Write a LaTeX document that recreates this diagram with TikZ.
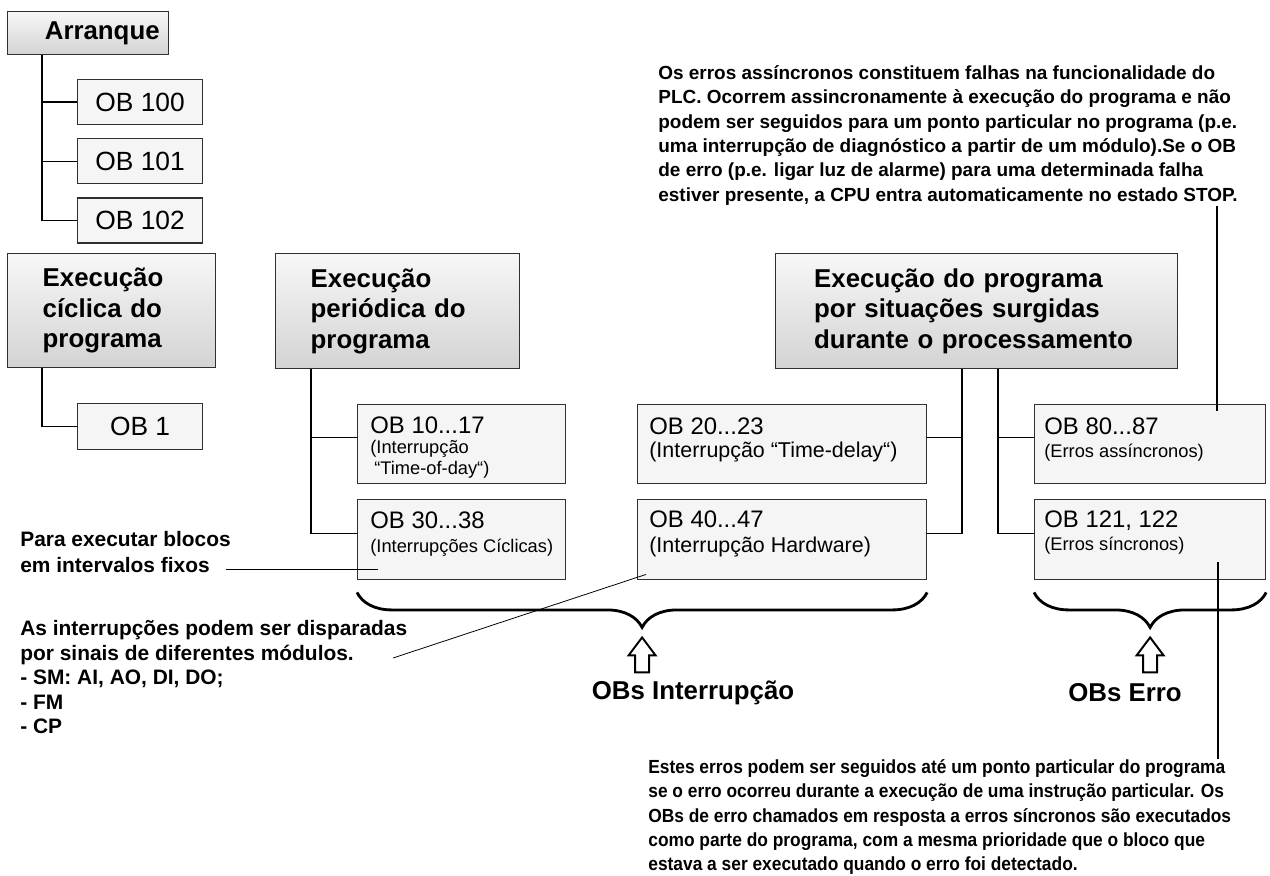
\documentclass[tikz,border=0pt]{standalone}
\usepackage{fontspec}
\setmainfont{Liberation Sans}
\newfontfamily\narrowfont[FakeStretch=0.915]{Liberation Sans}
\usepackage{tikz}
\usetikzlibrary{positioning,calc,decorations.pathreplacing}
\definecolor{boxline}{HTML}{303030}
\definecolor{headtop}{HTML}{F7F7F7}
\definecolor{headbot}{HTML}{D3D3D3}
\definecolor{obfill}{HTML}{F5F5F5}

\begin{document}
\begin{tikzpicture}[
  x=0.02cm, y=-0.02cm,
  head/.style={draw=boxline,line width=0.8pt,top color=headtop,bottom color=headbot,anchor=north west,align=left,inner ysep=0pt,font=\fontsize{14.7}{17.4}\selectfont\bfseries},
  obbox/.style={draw=boxline,line width=0.7pt,fill=obfill,anchor=north west,inner sep=0pt,font=\fontsize{15}{17}\selectfont},
  obtext/.style={anchor=base west,inner sep=0pt,font=\fontsize{13.6}{16}\selectfont},
  subtext/.style={anchor=base west,inner sep=0pt,font=\fontsize{10.4}{12}\selectfont},
  subtextl/.style={anchor=base west,inner sep=0pt,font=\fontsize{12.2}{14}\selectfont},
  wire/.style={line width=0.75pt},
  pointer/.style={line width=0.45pt},
  note/.style={anchor=north west,align=left,inner sep=0pt,font=\bfseries\fontsize{10.8}{13.9}\selectfont},
  lnote/.style={anchor=north west,align=left,inner sep=0pt,font=\fontsize{11.9}{14}\selectfont\bfseries},
  oblabel/.style={font=\fontsize{14.7}{17}\selectfont\bfseries},
  obbrace/.style={decorate,decoration={brace,mirror,amplitude=0.7cm},line width=1.6pt},
  hollowup/.pic={\draw[line width=1.1pt] (0,0) -- (13.5,18) -- (7,18) -- (7,35) -- (-7,35) -- (-7,18) -- (-13.5,18) -- cycle;},
]
\useasboundingbox (0,0) rectangle (1270,875);

\node[head,align=right,inner xsep=0.18cm,text width=2.86cm,minimum height=0.86cm] (arranque) at (7,11) {Arranque};
\node[obbox,minimum width=2.5cm,minimum height=0.9cm] (ob100) at (77,79) {OB 100};
\node[obbox,minimum width=2.5cm,minimum height=0.9cm,below=0.26cm of ob100] (ob101) {OB 101};
\node[obbox,minimum width=2.5cm,minimum height=0.9cm,below=0.26cm of ob101] (ob102) {OB 102};

\node[head,inner xsep=0.7cm,text width=2.76cm,minimum height=2.28cm] (ciclica) at (7,253) {Execução\\cíclica do\\programa};
\node[obbox,minimum width=2.5cm,minimum height=0.92cm] (ob1) at (77,403) {OB 1};

\node[head,inner xsep=0.7cm,text width=3.48cm,minimum height=2.3cm] (periodica) at (275,253) {Execução\\periódica do\\programa};
\node[obbox,minimum width=4.16cm,minimum height=1.58cm] (ob10) at (357,404) {};
\node[obbox,minimum width=4.16cm,minimum height=1.6cm,below=0.3cm of ob10] (ob30) {};
\node[obtext] (ob10t) at ([shift={(0.26cm,-0.6cm)}]ob10.north west) {OB 10...17};
\node[subtext] (ob10s) at ([shift={(0.26cm,-1.0cm)}]ob10.north west) {(Interrupção};
\node[subtext] (ob10u) at ([shift={(0.34cm,-1.42cm)}]ob10.north west) {“Time-of-day“)};
\node[obtext] (ob30t) at ([shift={(0.26cm,-0.58cm)}]ob30.north west) {OB 30...38};
\node[subtext] (ob30s) at ([shift={(0.26cm,-1.07cm)}]ob30.north west) {(Interrupções Cíclicas)};

\node[head,inner xsep=0.77cm,text width=6.5cm,minimum height=2.3cm] (situacoes) at (775,253)
  {Execução do programa\\por situações surgidas\\durante o processamento};
\node[obbox,minimum width=5.78cm,minimum height=1.58cm] (ob20) at (637,404) {};
\node[obbox,minimum width=5.78cm,minimum height=1.6cm,below=0.3cm of ob20] (ob40) {};
\node[obbox,minimum width=4.62cm,minimum height=1.58cm] (ob80) at (1034,404) {};
\node[obbox,minimum width=4.62cm,minimum height=1.6cm,below=0.3cm of ob80] (ob121) {};
\node[obtext] (ob20t) at ([shift={(0.24cm,-0.62cm)}]ob20.north west) {OB 20...23};
\node[subtextl] (ob20s) at ([shift={(0.24cm,-1.08cm)}]ob20.north west) {(Interrupção “Time-delay“)};
\node[obtext] (ob40t) at ([shift={(0.24cm,-0.56cm)}]ob40.north west) {OB 40...47};
\node[subtextl] (ob40s) at ([shift={(0.24cm,-1.07cm)}]ob40.north west) {(Interrupção Hardware)};
\node[obtext] (ob80t) at ([shift={(0.2cm,-0.62cm)}]ob80.north west) {OB 80...87};
\node[subtext] (ob80s) at ([shift={(0.2cm,-1.07cm)}]ob80.north west) {(Erros assíncronos)};
\node[obtext] (ob121t) at ([shift={(0.2cm,-0.56cm)}]ob121.north west) {OB 121, 122};
\node[subtext] (ob121s) at ([shift={(0.2cm,-1.02cm)}]ob121.north west) {(Erros síncronos)};

\foreach \n in {ob100,ob101,ob102}
  \draw[wire] ([xshift=0.7cm]arranque.south west) |- (\n.west);
\draw[wire] ([xshift=0.7cm]ciclica.south west) |- (ob1.west);
\foreach \n in {ob10,ob30}
  \draw[wire] ([xshift=0.72cm]periodica.south west) |- ([yshift=0.13cm]\n.west);
\foreach \n in {ob20,ob40}
  \draw[wire] ([xshift=3.74cm]situacoes.south west) |- ([yshift=0.13cm]\n.east);
\foreach \n in {ob80,ob121}
  \draw[wire] ([xshift=4.46cm]situacoes.south west) |- ([yshift=0.13cm]\n.west);

\draw[obbrace] ([yshift=-0.24cm]ob30.south west) -- ([yshift=-0.24cm]ob40.south east);
\draw[obbrace] ([yshift=-0.24cm]ob121.south west) -- ([yshift=-0.24cm]ob121.south east);
\coordinate (intmid) at ($(ob30.south west)!0.5!(ob40.south east)$);
\pic at ([yshift=-1.14cm]intmid) {hollowup};
\pic at ([yshift=-1.14cm]ob121.south) {hollowup};
\node[oblabel] (intlabel) at (693,693) {OBs Interrupção};
\node[oblabel] (errlabel) at (1125,693) {OBs Erro};

\node[note] (notetop) at (658,65)
  {Os erros assíncronos constituem falhas na funcionalidade do\\
   PLC. Ocorrem assincronamente à execução do programa e não\\
   podem ser seguidos para um ponto particular no programa (p.e.\\
   uma interrupção de diagnóstico a partir de um módulo).Se o OB\\
   de erro (p.e. ligar luz de alarme) para uma determinada falha\\
   estiver presente, a CPU entra automaticamente no estado STOP.};
\node[note,font=\narrowfont\bfseries\fontsize{10.8}{13.9}\selectfont] (notebot) at (648,759)
  {Estes erros podem ser seguidos até um ponto particular do programa\\
   se o erro ocorreu durante a execução de uma instrução particular. Os\\
   OBs de erro chamados em resposta a erros síncronos são executados\\
   como parte do programa, com a mesma prioridade que o bloco que\\
   estava a ser executado quando o erro foi detectado.};
\node[lnote,font=\fontsize{11.9}{15}\selectfont\bfseries] (notefix) at (20,531) {Para executar blocos\\em intervalos fixos};
\node[lnote] (notemod) at (20,620)
  {As interrupções podem ser disparadas\\por sinais de diferentes módulos.\\- SM: AI, AO, DI, DO;\\- FM\\- CP};

\coordinate (asyncend) at (1217,411);
\draw[wire] (asyncend |- notetop.south) -- (asyncend);
\coordinate (syncend) at (1218,562);
\draw[wire] (syncend) -- (syncend |- notebot.north);
\coordinate (fixend) at (378,569);
\draw[pointer] ([xshift=-0.1cm]notefix.east |- fixend) -- (fixend);
\coordinate (modstart) at (393,658);
\draw[pointer] (modstart) -- ([shift={(0.18cm,0.12cm)}]ob40.south west);
\end{tikzpicture}
\end{document}
